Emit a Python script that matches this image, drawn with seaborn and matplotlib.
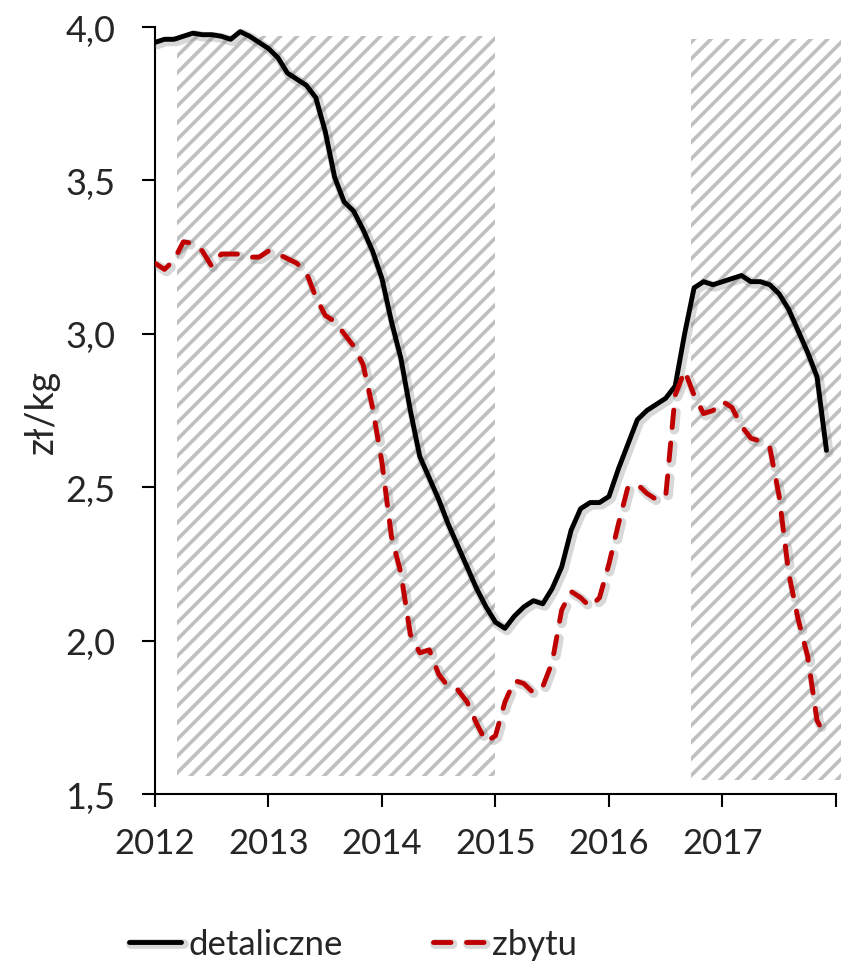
import numpy as np
import pandas as pd
import seaborn as sns
import matplotlib.pyplot as plt
import matplotlib.patheffects as pe

# monthly prices, Jan 2012 - Dec 2017 (zł/kg)
months = np.arange(72)
years = 2012 + months / 12

detaliczne = [3.95, 3.96, 3.96, 3.97, 3.98, 3.975, 3.975, 3.97, 3.96, 3.985, 3.97, 3.95,
              3.93, 3.90, 3.85, 3.83, 3.81, 3.77, 3.66, 3.51, 3.43, 3.40, 3.34, 3.27,
              3.18, 3.04, 2.92, 2.75, 2.60, 2.53, 2.46, 2.38, 2.31, 2.24, 2.17, 2.11,
              2.06, 2.04, 2.08, 2.11, 2.13, 2.12, 2.17, 2.24, 2.36, 2.43, 2.45, 2.45,
              2.47, 2.56, 2.64, 2.72, 2.75, 2.77, 2.79, 2.83, 3.00, 3.15, 3.17, 3.16,
              3.17, 3.18, 3.19, 3.17, 3.17, 3.16, 3.13, 3.08, 3.01, 2.94, 2.86, 2.62]

zbytu = [3.23, 3.21, 3.24, 3.30, 3.295, 3.27, 3.22, 3.26, 3.26, 3.26, 3.25, 3.25,
         3.27, 3.26, 3.245, 3.23, 3.20, 3.12, 3.06, 3.04, 3.00, 2.96, 2.90, 2.76,
         2.58, 2.34, 2.22, 2.02, 1.96, 1.97, 1.89, 1.85, 1.84, 1.80, 1.73, 1.67,
         1.69, 1.80, 1.87, 1.86, 1.83, 1.85, 1.93, 2.10, 2.16, 2.14, 2.11, 2.14,
         2.25, 2.38, 2.50, 2.51, 2.48, 2.46, 2.47, 2.80, 2.88, 2.80, 2.74, 2.75,
         2.78, 2.76, 2.70, 2.66, 2.65, 2.63, 2.47, 2.22, 2.07, 1.95, 1.74, 1.68]

# hatched periods
hatch_start = [2012.19, 2016.72]
hatch_end = [2015.0, 2018.05]
hatch_low = [1.558, 1.545]
hatch_high = [3.97, 3.96]

year_ticks = [2012, 2013, 2014, 2015, 2016, 2017, 2018]
year_labels = ["2012", "2013", "2014", "2015", "2016", "2017", ""]
y_ticks = [1.5, 2.0, 2.5, 3.0, 3.5, 4.0]
y_labels = ["1,5", "2,0", "2,5", "3,0", "3,5", "4,0"]

df = pd.DataFrame({"rok": years, "detaliczne": detaliczne, "zbytu": zbytu})

sns.set_style("ticks")
plt.rcParams["font.family"] = ["Lato", "DejaVu Sans"]
plt.rcParams["hatch.linewidth"] = 2.6

fig = plt.figure(figsize=(8.41, 9.70), dpi=100)
ax = fig.add_axes([0.1843, 0.1804, 0.8097, 0.7907])

# hatched background bars
ax.bar(hatch_start, np.array(hatch_high) - np.array(hatch_low),
       width=np.array(hatch_end) - np.array(hatch_start), bottom=hatch_low,
       align="edge", fill=False, hatch="//", edgecolor="#bfbfbf", linewidth=0,
       clip_on=False, zorder=1)

shadow = [pe.SimpleLineShadow(offset=(1.5, -1.5), shadow_color="0.5", alpha=0.3, linewidth=7),
          pe.Normal()]

sns.lineplot(data=df, x="rok", y="detaliczne", ax=ax, color="black",
             linewidth=3.5, label="detaliczne", zorder=3, path_effects=shadow)
sns.lineplot(data=df, x="rok", y="zbytu", ax=ax, color="#C00000",
             linewidth=3.5, linestyle=(0, (3.6, 3.2)), dash_capstyle="round",
             label="zbytu", zorder=3, path_effects=shadow)

ax.set_xlim(2012, 2018)
ax.set_ylim(1.5, 4.0)
ax.set_xticks(year_ticks)
ax.set_xticklabels(year_labels, fontsize=25)
ax.set_yticks(y_ticks)
ax.set_yticklabels(y_labels, fontsize=26)
ax.tick_params(axis="x", length=9.5, width=1.5, pad=14, color="black")
ax.tick_params(axis="y", length=9.5, width=1.5, pad=19, color="black")
ax.set_xlabel("")
ax.set_ylabel("zł/kg", fontsize=27, labelpad=4)

sns.despine(ax=ax)
for side in ["left", "bottom"]:
    ax.spines[side].set_linewidth(1.5)
    ax.spines[side].set_color("black")

handles, labels = ax.get_legend_handles_labels()
ax.get_legend().remove()
fig.legend(handles, labels, loc="center", bbox_to_anchor=(0.42, 0.026),
           ncol=2, frameon=False, fontsize=25, handlelength=1.5,
           handletextpad=0.2, columnspacing=2.6)

fig.savefig("out.png", dpi=100)
